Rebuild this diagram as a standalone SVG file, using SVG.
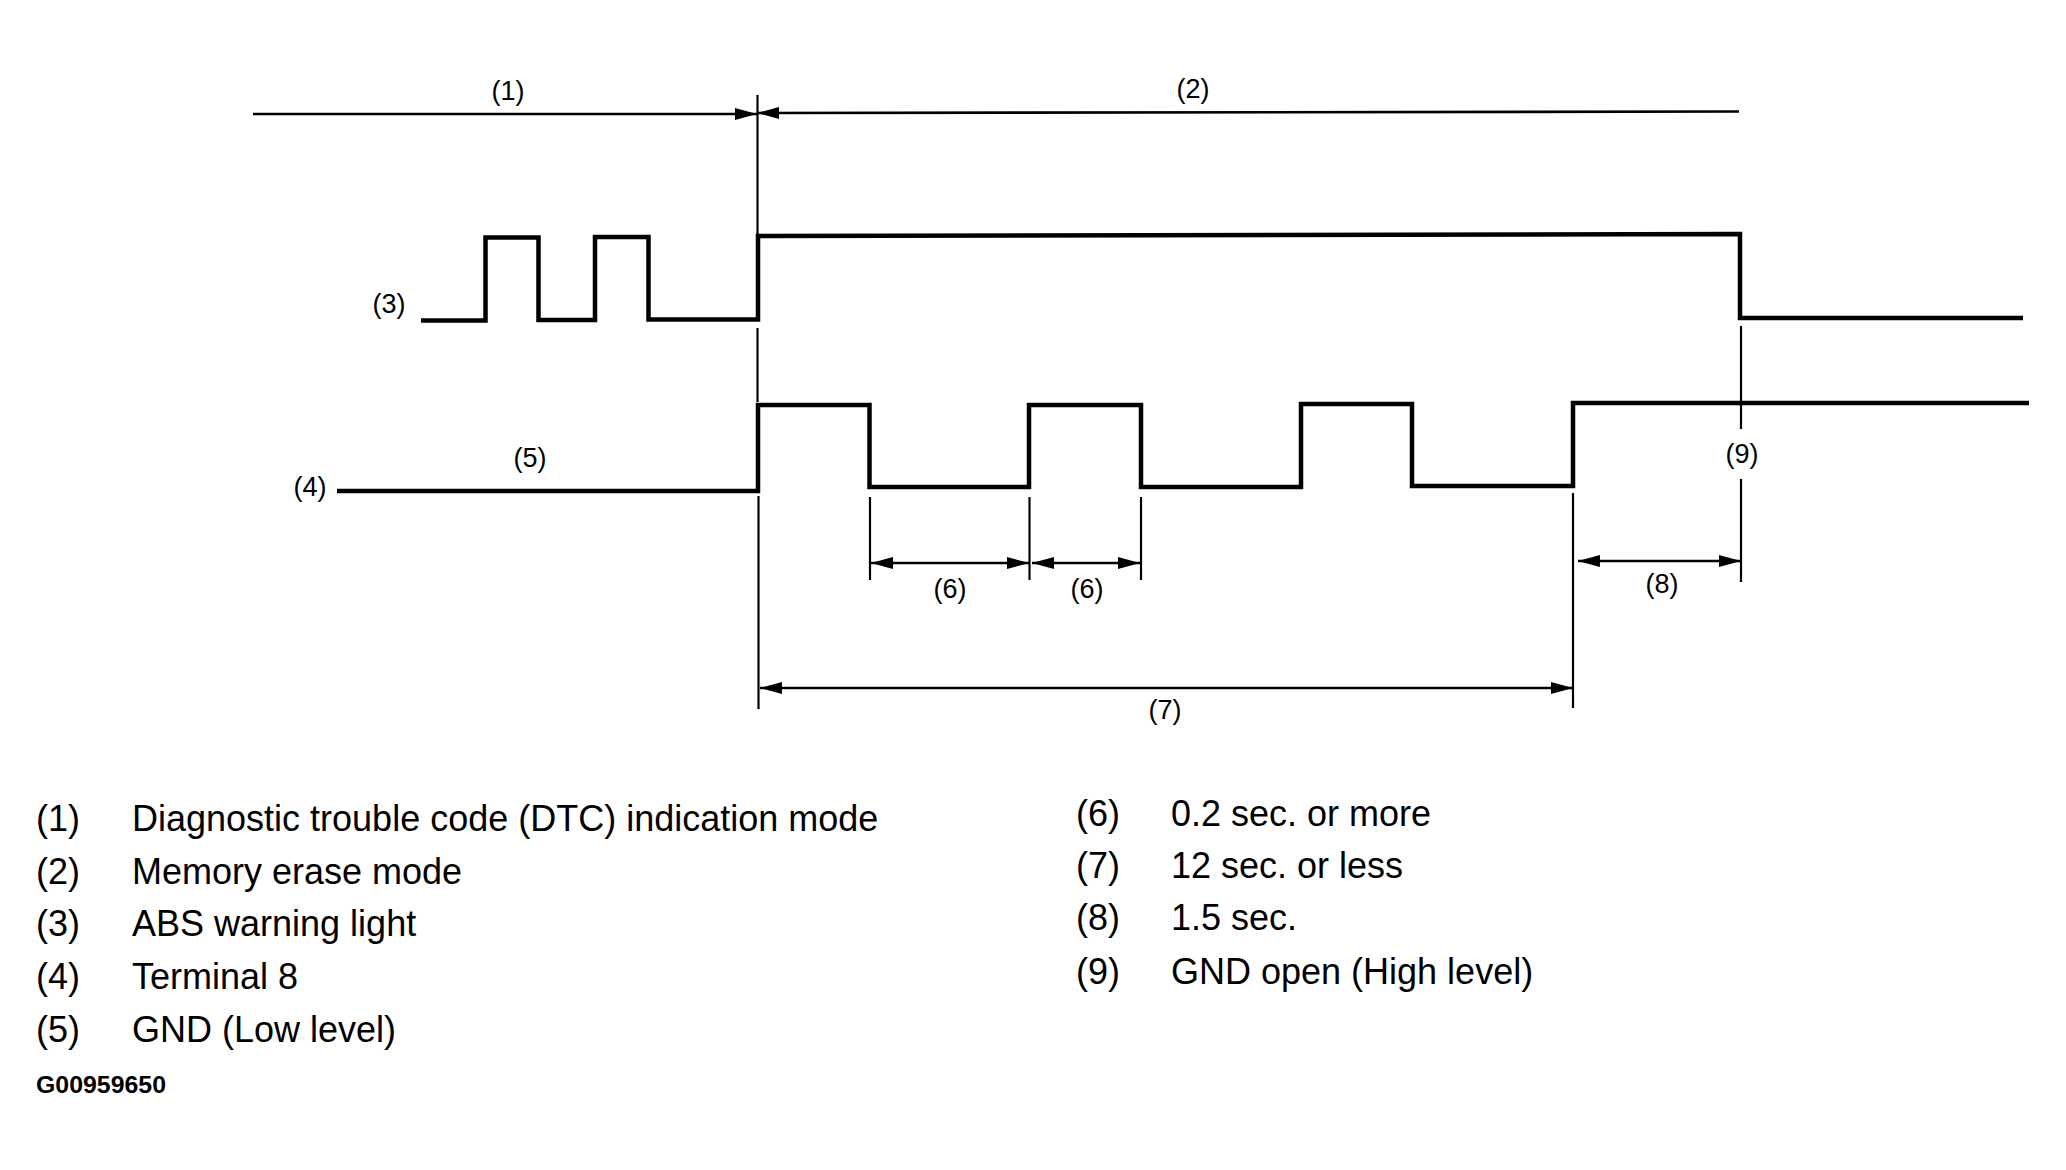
<svg xmlns="http://www.w3.org/2000/svg" width="2066" height="1170" viewBox="0 0 2066 1170">
<style>
  .sig { fill: none; stroke: #000; stroke-width: 4.5; stroke-linejoin: miter; stroke-linecap: butt; }
  .ext { fill: none; stroke: #000; stroke-width: 2.2; }
  .dim { fill: none; stroke: #000; stroke-width: 2.6; }
  .lbl { font-family: "Liberation Sans", Arial, sans-serif; font-size: 27px; fill: #000; text-anchor: middle; }
  .leg { font-family: "Liberation Sans", Arial, sans-serif; font-size: 36px; fill: #000; }
  .code { font-family: "Liberation Sans", Arial, sans-serif; font-size: 24px; font-weight: bold; fill: #000; }
</style>
<defs>
  <marker id="arr" markerUnits="userSpaceOnUse" markerWidth="22" markerHeight="12" refX="22" refY="6" orient="auto-start-reverse">
    <path d="M0,0 L22,6 L0,12 Z" fill="#000"/>
  </marker>
</defs>
<rect width="2066" height="1170" fill="#fff"/>

<g id="signal-abs-warning-light">
  <path class="sig" d="M421,320.5 H485.5 V237.5 H538.5 V320 H595 V237 H648.5 V319.5 H758 V236 L1740,234 V318 H2023"/>
</g>
<g id="signal-terminal-8">
  <path class="sig" d="M337,491 H758 V405 H869.5 V487 H1029 V405 H1141 V487 H1301 V404 H1412 V486 H1573 V403 H2029"/>
</g>

<g id="connectors">
  <line class="ext" x1="757.5" y1="95" x2="757.5" y2="234"/>
  <line class="ext" x1="757.5" y1="328" x2="757.5" y2="402"/>
  <line class="ext" x1="758.5" y1="496" x2="758.5" y2="709"/>
  <line class="ext" x1="870" y1="497" x2="870" y2="580"/>
  <line class="ext" x1="1029.5" y1="497" x2="1029.5" y2="580"/>
  <line class="ext" x1="1141" y1="497" x2="1141" y2="580"/>
  <line class="ext" x1="1573" y1="493" x2="1573" y2="708"/>
  <line class="ext" x1="1741" y1="326" x2="1741" y2="429"/>
  <line class="ext" x1="1741" y1="479" x2="1741" y2="582"/>
  <line class="dim" x1="253" y1="114" x2="757" y2="114" marker-end="url(#arr)"/>
  <line class="dim" x1="757" y1="113" x2="1739" y2="111.5" marker-start="url(#arr)"/>
  <line class="dim" x1="871" y1="563" x2="1029" y2="563" marker-start="url(#arr)" marker-end="url(#arr)"/>
  <line class="dim" x1="1032" y1="563" x2="1140" y2="563" marker-start="url(#arr)" marker-end="url(#arr)"/>
  <line class="dim" x1="760" y1="688" x2="1573" y2="688" marker-start="url(#arr)" marker-end="url(#arr)"/>
  <line class="dim" x1="1578" y1="561" x2="1741" y2="561" marker-start="url(#arr)" marker-end="url(#arr)"/>
</g>

<g id="diagram-labels">
  <text id="lbl-1" class="lbl" x="508" y="100">(1)</text>
  <text id="lbl-2" class="lbl" x="1193" y="98">(2)</text>
  <text id="lbl-3" class="lbl" x="389" y="313">(3)</text>
  <text id="lbl-4" class="lbl" x="310" y="496">(4)</text>
  <text id="lbl-5" class="lbl" x="530" y="467">(5)</text>
  <text id="lbl-6a" class="lbl" x="950" y="598">(6)</text>
  <text id="lbl-6b" class="lbl" x="1087" y="598">(6)</text>
  <text id="lbl-7" class="lbl" x="1165" y="719">(7)</text>
  <text id="lbl-8" class="lbl" x="1662" y="593">(8)</text>
  <text id="lbl-9" class="lbl" x="1742" y="463">(9)</text>
</g>

<g id="legend-left">
  <text class="leg" x="36" y="831">(1)</text><text class="leg" x="132" y="831">Diagnostic trouble code (DTC) indication mode</text>
  <text class="leg" x="36" y="883.5">(2)</text><text class="leg" x="132" y="883.5">Memory erase mode</text>
  <text class="leg" x="36" y="936">(3)</text><text class="leg" x="132" y="936">ABS warning light</text>
  <text class="leg" x="36" y="989">(4)</text><text class="leg" x="132" y="989">Terminal 8</text>
  <text class="leg" x="36" y="1042">(5)</text><text class="leg" x="132" y="1042">GND (Low level)</text>
</g>
<g id="legend-right">
  <text class="leg" x="1076" y="826">(6)</text><text class="leg" x="1171" y="826">0.2 sec. or more</text>
  <text class="leg" x="1076" y="878">(7)</text><text class="leg" x="1171" y="878">12 sec. or less</text>
  <text class="leg" x="1076" y="930">(8)</text><text class="leg" x="1171" y="930">1.5 sec.</text>
  <text class="leg" x="1076" y="983.5">(9)</text><text class="leg" x="1171" y="983.5">GND open (High level)</text>
</g>
<g id="figure-code">
  <text class="code" x="36" y="1093" textLength="130" lengthAdjust="spacingAndGlyphs">G00959650</text>
</g>
</svg>
